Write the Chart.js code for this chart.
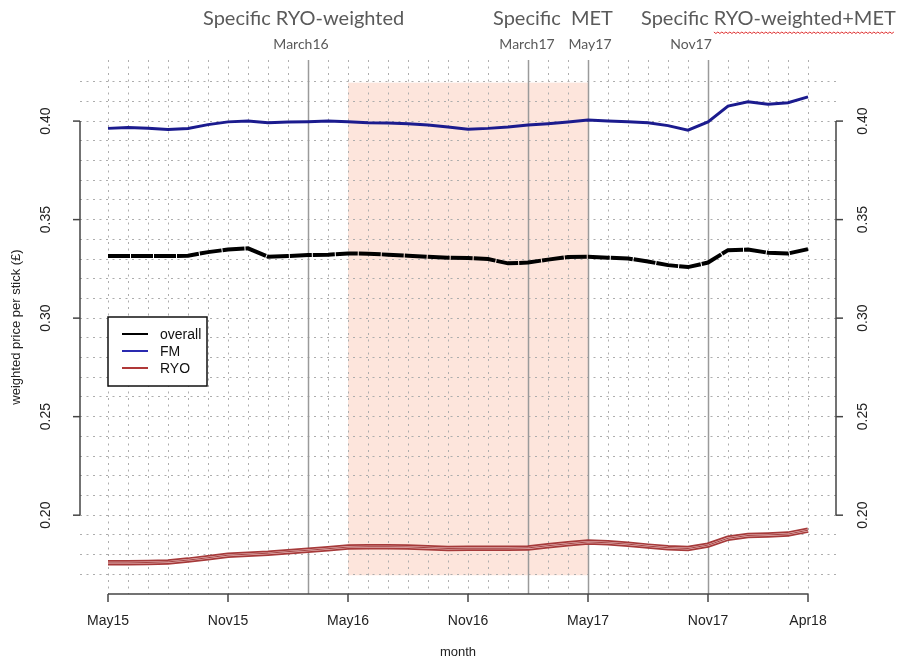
<!DOCTYPE html>
<html>
<head>
<meta charset="utf-8">
<script src="https://cdn.jsdelivr.net/npm/chart.js@4/dist/chart.umd.min.js"></script>
<style>
  body { margin: 0; background: #fff; }
  canvas { display: block; }
</style>
</head>
<body>
<canvas id="priceChart" width="912" height="662"></canvas>
<script>
// monthly series, May15 .. Apr18
const months = ['May15','Jun15','Jul15','Aug15','Sep15','Oct15','Nov15','Dec15','Jan16','Feb16','Mar16','Apr16',
                'May16','Jun16','Jul16','Aug16','Sep16','Oct16','Nov16','Dec16','Jan17','Feb17','Mar17','Apr17',
                'May17','Jun17','Jul17','Aug17','Sep17','Oct17','Nov17','Dec17','Jan18','Feb18','Mar18','Apr18'];
const overall = [0.3315,0.3315,0.3315,0.3315,0.3317,0.3335,0.3348,0.3354,0.3312,0.3315,0.3320,0.3322,
                 0.3328,0.3327,0.3322,0.3317,0.3311,0.3307,0.3305,0.3300,0.3278,0.3282,0.3297,0.3310,
                 0.3311,0.3307,0.3303,0.3287,0.3269,0.3259,0.3282,0.3345,0.3348,0.3332,0.3328,0.3350];
const fm = [0.3963,0.3968,0.3964,0.3957,0.3962,0.3982,0.3996,0.4001,0.3991,0.3995,0.3997,0.4001,
            0.3997,0.3992,0.3990,0.3986,0.3980,0.3970,0.3959,0.3963,0.3970,0.3980,0.3987,0.3995,
            0.4005,0.4000,0.3996,0.3991,0.3977,0.3954,0.3996,0.4076,0.4098,0.4085,0.4093,0.4123];
const ryo = [0.1758,0.1758,0.1760,0.1763,0.1772,0.1784,0.1797,0.1802,0.1807,0.1815,0.1822,0.1830,
             0.1838,0.1840,0.1840,0.1839,0.1835,0.1831,0.1832,0.1832,0.1832,0.1834,0.1845,0.1855,
             0.1864,0.1860,0.1853,0.1843,0.1835,0.1831,0.1848,0.1883,0.1897,0.1900,0.1904,0.1924];

const xTickMonths = ['May15','Nov15','May16','Nov16','May17','Nov17','Apr18'];
const yTickLabels = [0.20, 0.25, 0.30, 0.35, 0.40];
const gridY = [0.17,0.18,0.19,0.20,0.21,0.22,0.23,0.24,0.25,0.26,0.27,0.28,0.29,0.30,
               0.31,0.32,0.33,0.34,0.35,0.36,0.37,0.38,0.39,0.40,0.41,0.42];

// policy events and the shaded period
const eventMonths = ['Mar16','Feb17','May17','Nov17'];
const eventLabels = ['March16','March17','May17','Nov17'];
const eventLabelX = [301, 527, 590, 691];
const shadeMonths = ['May16','May17'];
const shadeRange = [0.1695, 0.4195];

const pts = arr => arr.map((v, i) => ({ x: i, y: v }));
const idx = m => months.indexOf(m);

const LABEL_FONT = '14px "Liberation Sans", Arial, sans-serif';
const HEAD_FONT = '"Lato", "Liberation Sans Narrow", sans-serif';

const shadePlugin = {
    id: 'shade',
    beforeDraw(chart) {
        const { ctx, scales: { x, y } } = chart;
        ctx.save();
        ctx.fillStyle = '#fff';
        ctx.fillRect(0, 0, chart.width, chart.height);
        const x0 = x.getPixelForValue(idx(shadeMonths[0]));
        const x1 = x.getPixelForValue(idx(shadeMonths[1]));
        const y0 = y.getPixelForValue(shadeRange[1]);
        const y1 = y.getPixelForValue(shadeRange[0]);
        ctx.fillStyle = '#fde5dc';
        ctx.fillRect(x0, y0, x1 - x0, y1 - y0);
        ctx.restore();
    },
    beforeDatasetsDraw(chart) {
        const { ctx, chartArea, scales: { x } } = chart;
        ctx.save();
        ctx.strokeStyle = '#9a9a9a';
        ctx.lineWidth = 1.5;
        eventMonths.forEach(m => {
            const px = Math.round(x.getPixelForValue(idx(m))) + 0.5;
            ctx.beginPath();
            ctx.moveTo(px, chartArea.top);
            ctx.lineTo(px, chartArea.bottom);
            ctx.stroke();
        });
        ctx.restore();
    }
};

const axesPlugin = {
    id: 'rAxes',
    afterDraw(chart) {
        const { ctx, chartArea, scales: { x, y } } = chart;
        ctx.save();
        ctx.strokeStyle = '#444';
        ctx.fillStyle = '#222';
        ctx.lineWidth = 1.5;
        ctx.font = LABEL_FONT;

        // bottom axis
        const yb = chartArea.bottom;
        ctx.beginPath();
        ctx.moveTo(x.getPixelForValue(0), yb);
        ctx.lineTo(x.getPixelForValue(months.length - 1), yb);
        ctx.stroke();
        ctx.textAlign = 'center';
        ctx.textBaseline = 'middle';
        xTickMonths.forEach(m => {
            const px = x.getPixelForValue(idx(m));
            ctx.beginPath();
            ctx.moveTo(px, yb);
            ctx.lineTo(px, yb + 8);
            ctx.stroke();
            ctx.fillText(m, px, yb + 27);
        });
        ctx.font = '13px "Liberation Sans", Arial, sans-serif';
        ctx.fillText('month', (chartArea.left + chartArea.right) / 2, yb + 58);
        ctx.font = LABEL_FONT;

        // left and right axes
        const ytop = y.getPixelForValue(yTickLabels[yTickLabels.length - 1]);
        const ybot = y.getPixelForValue(yTickLabels[0]);
        [[chartArea.left, -7, -34], [chartArea.right, 7, 27]].forEach(([ax, tick, lab]) => {
            ctx.beginPath();
            ctx.moveTo(ax, ytop);
            ctx.lineTo(ax, ybot);
            ctx.stroke();
            yTickLabels.forEach(v => {
                const py = y.getPixelForValue(v);
                ctx.beginPath();
                ctx.moveTo(ax, py);
                ctx.lineTo(ax + tick, py);
                ctx.stroke();
                ctx.save();
                ctx.translate(ax + lab, py);
                ctx.rotate(-Math.PI / 2);
                ctx.fillText(v.toFixed(2), 0, 0);
                ctx.restore();
            });
        });

        // y title
        ctx.save();
        ctx.font = '13px "Liberation Sans", Arial, sans-serif';
        ctx.translate(16, (chartArea.top + chartArea.bottom) / 2);
        ctx.rotate(-Math.PI / 2);
        ctx.fillText('weighted price per stick (£)', 0, 0);
        ctx.restore();

        // legend box
        const lx = 108, ly = 317, lw = 99, lh = 69;
        ctx.fillStyle = '#fff';
        ctx.fillRect(lx, ly, lw, lh);
        ctx.strokeStyle = '#111';
        ctx.strokeRect(lx, ly, lw, lh);
        ctx.textAlign = 'left';
        chart.data.datasets.filter(d => d.legendColor).forEach((d, i) => {
            const ry = ly + 17 + i * 17;
            ctx.strokeStyle = d.legendColor;
            ctx.lineWidth = 2;
            ctx.beginPath();
            ctx.moveTo(lx + 14, ry);
            ctx.lineTo(lx + 40, ry);
            ctx.stroke();
            ctx.fillStyle = '#111';
            ctx.fillText(d.label, lx + 52, ry + 1);
        });

        // headings above the plot
        ctx.fillStyle = '#5a5a5a';
        ctx.font = '20px ' + HEAD_FONT;
        ctx.textAlign = 'left';
        ctx.fillText('Specific RYO-weighted', 203, 19);
        ctx.fillText('Specific  MET', 493, 19);
        ctx.fillText('Specific ', 641, 19);
        const sx = 641 + ctx.measureText('Specific ').width;
        ctx.fillText('RYO-weighted+MET', sx, 19);
        const sw = ctx.measureText('RYO-weighted+MET').width;
        // spell-check squiggle
        ctx.strokeStyle = '#e03030';
        ctx.lineWidth = 1;
        ctx.beginPath();
        for (let px = sx; px <= sx + sw; px += 2) {
            const py = 32 + ((px - sx) % 4 === 0 ? 0 : 1.5);
            if (px === sx) ctx.moveTo(px, py); else ctx.lineTo(px, py);
        }
        ctx.stroke();

        ctx.font = '14px ' + HEAD_FONT;
        ctx.textAlign = 'center';
        eventLabels.forEach((t, i) => ctx.fillText(t, eventLabelX[i], 44));
        ctx.restore();
    }
};

const gridOpts = { color: '#adadad', lineWidth: 1, drawTicks: false };
const borderOpts = { display: false, dash: [2, 4.5] };

new Chart(document.getElementById('priceChart'), {
    type: 'line',
    data: {
        datasets: [
            { label: 'overall', data: pts(overall), borderColor: '#000', borderWidth: 4,
              borderDash: [22, 1], legendColor: '#000', order: 4 },
            { label: 'FM', data: pts(fm), borderColor: '#1b1b8e', borderWidth: 3, legendColor: '#2a2ab0', order: 3 },
            { label: 'RYO', data: pts(ryo), borderColor: '#a63a3a', borderWidth: 5.5, legendColor: '#b03838', order: 2 },
            { label: 'RYO inner', data: pts(ryo), borderColor: '#f2caca', borderWidth: 2, order: 1 },
            { label: 'RYO core', data: pts(ryo), borderColor: '#8e2020', borderWidth: 0.8, order: 0 }
        ]
    },
    options: {
        responsive: false,
        animation: false,
        layout: { padding: { left: 80, right: 76, top: 60, bottom: 68 } },
        elements: { point: { radius: 0 }, line: { tension: 0, borderCapStyle: 'butt' } },
        plugins: { legend: { display: false }, tooltip: { enabled: false } },
        scales: {
            x: {
                type: 'linear', min: -1.4, max: 36.4,
                afterBuildTicks: s => { s.ticks = months.map((m, i) => ({ value: i })); },
                ticks: { display: false },
                border: borderOpts,
                grid: gridOpts
            },
            y: {
                type: 'linear', min: 0.16, max: 0.431,
                afterBuildTicks: s => { s.ticks = gridY.map(v => ({ value: v })); },
                ticks: { display: false },
                border: borderOpts,
                grid: gridOpts
            }
        }
    },
    plugins: [shadePlugin, axesPlugin]
});
</script>
</body>
</html>
